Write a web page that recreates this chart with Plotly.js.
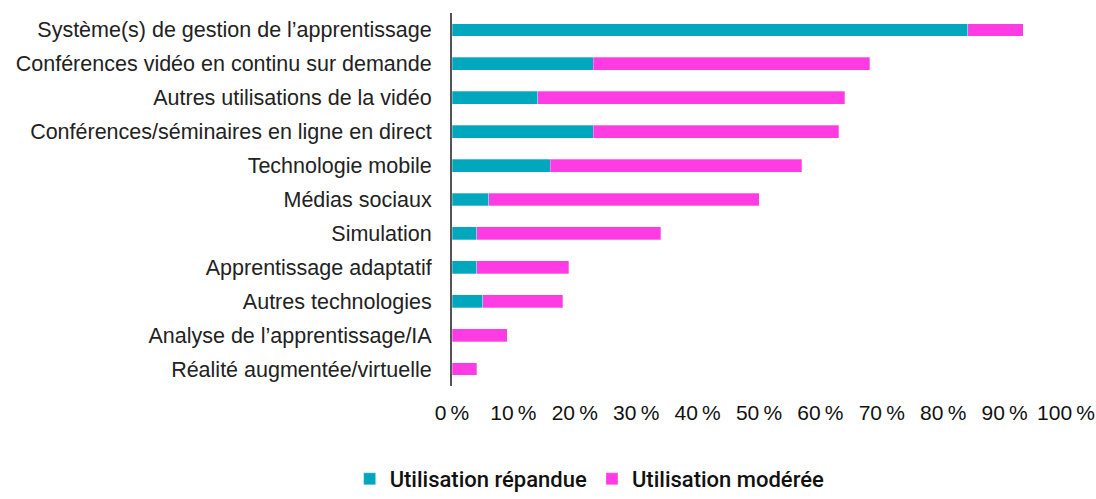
<!DOCTYPE html>
<html>
<head>
<meta charset="utf-8">
<script src="https://cdn.plot.ly/plotly-3.0.1.min.js"></script>
<style>html,body{margin:0;padding:0;background:#fff;}#chart{width:1096px;height:499px;}</style>
</head>
<body>
<div id="chart"></div>
<script>
const categories = [
  "Système(s) de gestion de l’apprentissage",
  "Conférences vidéo en continu sur demande",
  "Autres utilisations de la vidéo",
  "Conférences/séminaires en ligne en direct",
  "Technologie mobile",
  "Médias sociaux",
  "Simulation",
  "Apprentissage adaptatif",
  "Autres technologies",
  "Analyse de l’apprentissage/IA",
  "Réalité augmentée/virtuelle"
];
const repandue = [84, 23, 14, 23, 16, 6, 4, 4, 5, 0, 0];
const moderee  = [9, 45, 50, 40, 41, 44, 30, 15, 13, 9, 4];
const tickValues = [0, 10, 20, 30, 40, 50, 60, 70, 80, 90, 100];
const tickLabels = ["0\u202F%", "10\u202F%", "20\u202F%", "30\u202F%", "40\u202F%", "50\u202F%", "60\u202F%", "70\u202F%", "80\u202F%", "90\u202F%", "100\u202F%"];
const seriesNames = ["Utilisation répandue", "Utilisation modérée"];

const fontFam = "Liberation Sans, Arial, sans-serif";
const data = [
  {type: "bar", orientation: "h", y: categories, x: repandue, name: seriesNames[0],
   marker: {color: "#00a7bd", line: {color: "rgba(255,255,255,0.6)", width: 0.5}}, hoverinfo: "none"},
  {type: "bar", orientation: "h", y: categories, x: moderee, name: seriesNames[1],
   marker: {color: "#ff3be3", line: {color: "rgba(255,255,255,0.6)", width: 0.5}}, hoverinfo: "none"}
];
const layout = {
  width: 1096, height: 499,
  margin: {l: 452, r: 30, t: 13, b: 113, autoexpand: false},
  barmode: "stack",
  bargap: 0.62,
  paper_bgcolor: "#fff", plot_bgcolor: "#fff",
  font: {family: fontFam, color: "#1a1a1a", size: 17},
  xaxis: {range: [0, 100], tickvals: tickValues, ticktext: tickLabels, showgrid: false, zeroline: false,
          showline: false, ticks: "", ticklabelstandoff: 12, tickfont: {size: 21, color: "#111"}, fixedrange: true, automargin: false},
  yaxis: {autorange: "reversed", showline: true, linecolor: "#555", linewidth: 2, ticks: "",
          ticklabelstandoff: 14, showgrid: false, zeroline: false, tickfont: {size: 21.5, color: "#222"}, fixedrange: true, automargin: false},
  legend: {orientation: "h", xref: "container", yref: "container", x: 0.538, xanchor: "center", y: 0.04, yanchor: "middle",
           font: {size: 22, color: "#111", family: "Roboto, Liberation Sans, sans-serif", weight: 500}, itemwidth: 30, traceorder: "normal"},
  showlegend: true
};
Plotly.newPlot("chart", data, layout, {displayModeBar: false, staticPlot: true});
</script>
</body>
</html>
